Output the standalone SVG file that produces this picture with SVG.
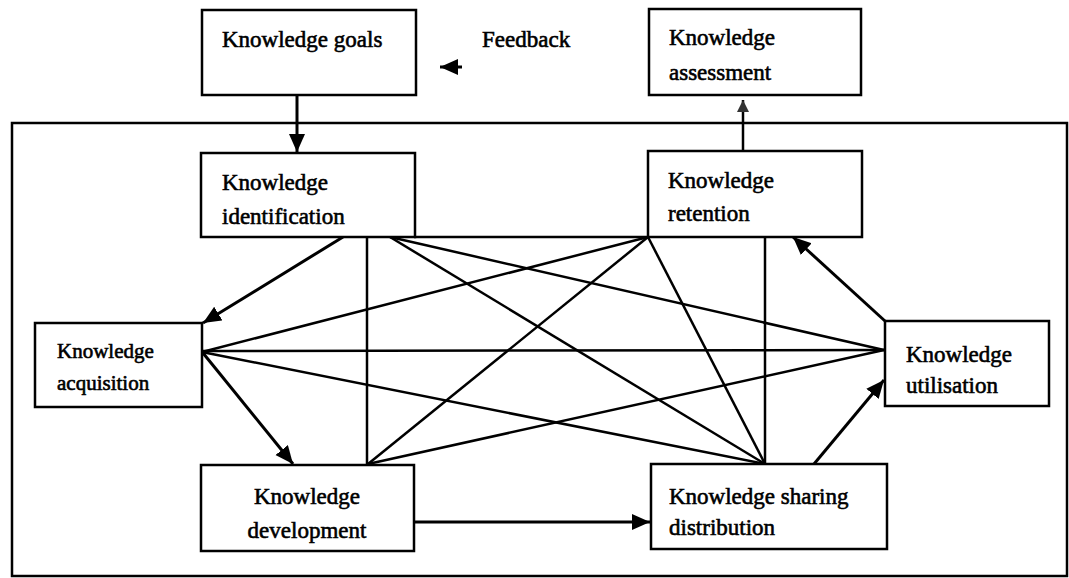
<svg xmlns="http://www.w3.org/2000/svg" width="1069" height="578" viewBox="0 0 1069 578">
<style>
.box{fill:#fff;stroke:#000;stroke-width:2.5}
.t{font-family:"Liberation Serif","Times New Roman",serif;font-size:23px;fill:#000;stroke:#000;stroke-width:0.6}
.ts{font-size:21px}
.ln{stroke:#000;stroke-width:2.5;fill:none}
.ar{stroke:#000;stroke-width:3;fill:none;marker-end:url(#ah)}
</style>
<defs>
<marker id="ah" markerUnits="userSpaceOnUse" markerWidth="20" markerHeight="18" refX="18" refY="8" orient="auto">
<path d="M0,0 L18,8 L0,16 Z" fill="#000"/>
</marker>
<marker id="ahs" markerUnits="userSpaceOnUse" markerWidth="14" markerHeight="12" refX="12" refY="6" orient="auto">
<path d="M0,0 L12,6 L0,12 Z" fill="#333"/>
</marker>
</defs>
<rect width="1069" height="578" fill="#fff"/>
<rect id="frame" x="12" y="123" width="1055" height="453" fill="none" stroke="#000" stroke-width="2.5"/>
<g id="connectors">
<line class="ln" x1="414" y1="237" x2="648" y2="237"/>
<line class="ln" x1="367" y1="237" x2="367" y2="464"/>
<line class="ln" x1="765" y1="237" x2="765" y2="464"/>
<line class="ln" x1="390" y1="237" x2="884" y2="350"/>
<line class="ln" x1="390" y1="237" x2="765" y2="464"/>
<line class="ln" x1="648" y1="237" x2="202" y2="352"/>
<line class="ln" x1="648" y1="237" x2="368" y2="464"/>
<line class="ln" x1="648" y1="237" x2="765" y2="464"/>
<line class="ln" x1="202" y1="351" x2="884" y2="350"/>
<line class="ln" x1="202" y1="352" x2="765" y2="464"/>
<line class="ln" x1="368" y1="464" x2="884" y2="350"/>
<line class="ar" x1="297" y1="95" x2="297" y2="152"/>
<line class="ln" x1="743" y1="151" x2="743" y2="100" marker-end="url(#ahs)"/>
<line class="ar" x1="343" y1="237" x2="203" y2="323"/>
<line class="ar" x1="203" y1="353" x2="293" y2="464"/>
<line class="ar" x1="414" y1="522" x2="650" y2="522"/>
<line class="ar" x1="814" y1="464" x2="884" y2="380"/>
<line class="ar" x1="885" y1="321" x2="793" y2="237"/>
<line class="ar" x1="462" y1="67" x2="440" y2="67"/>
</g>
<g id="goals">
<rect class="box" x="202" y="10" width="214" height="85"/>
<text class="t" x="222" y="47">Knowledge goals</text>
</g>
<g id="feedback">
<text class="t" x="482" y="47">Feedback</text>
</g>
<g id="assessment">
<rect class="box" x="649" y="9" width="212" height="86"/>
<text class="t" x="669" y="45">Knowledge</text>
<text class="t" x="669" y="80">assessment</text>
</g>
<g id="identification">
<rect class="box" x="201" y="153" width="214" height="84"/>
<text class="t" x="222" y="190">Knowledge</text>
<text class="t" x="222" y="224">identification</text>
</g>
<g id="retention">
<rect class="box" x="648" y="151" width="214" height="86"/>
<text class="t" x="668" y="188">Knowledge</text>
<text class="t" x="668" y="221">retention</text>
</g>
<g id="acquisition">
<rect class="box" x="35" y="323" width="167" height="84"/>
<text class="t ts" x="57" y="358">Knowledge</text>
<text class="t ts" x="57" y="390">acquisition</text>
</g>
<g id="utilisation">
<rect class="box" x="885" y="321" width="164" height="85"/>
<text class="t" x="906" y="362">Knowledge</text>
<text class="t" x="906" y="393">utilisation</text>
</g>
<g id="development">
<rect class="box" x="201" y="465" width="213" height="86"/>
<text class="t" x="307" y="504" text-anchor="middle">Knowledge</text>
<text class="t" x="307" y="538" text-anchor="middle">development</text>
</g>
<g id="sharing">
<rect class="box" x="651" y="464" width="236" height="85"/>
<text class="t" x="669" y="504">Knowledge sharing</text>
<text class="t" x="669" y="535">distribution</text>
</g>
</svg>
